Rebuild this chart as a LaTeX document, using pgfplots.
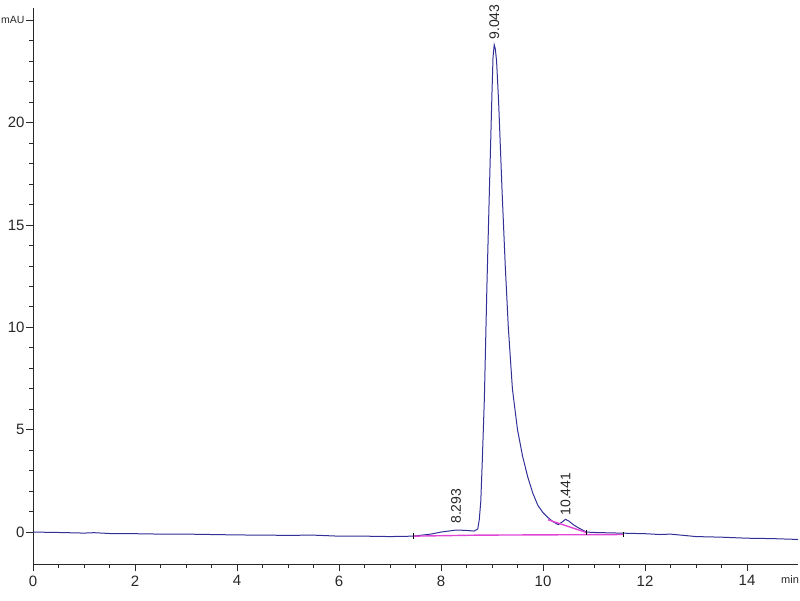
\documentclass[border=0pt]{standalone}
\usepackage{fontspec}
\setmainfont{Liberation Sans}
\usepackage{pgfplots}
\pgfplotsset{compat=1.18}
\definecolor{trace}{RGB}{48,48,150}
\definecolor{basefit}{RGB}{225,70,215}
\definecolor{axisgray}{RGB}{40,40,40}

\begin{document}
\begin{tikzpicture}
\begin{axis}[
    at={(0,0)}, anchor=south west,
    scale only axis,
    width=765pt, height=556pt,
    xmin=0, xmax=15,
    ymin=-1.56, ymax=25.6,
    axis lines*=left,
    axis line style={axisgray, line width=0.8pt},
    xtick={0,2,...,14},
    minor x tick num=3,
    ytick={0,5,10,15,20,25},
    yticklabels={0,5,10,15,20,{\fontsize{10.5}{12}\selectfont mAU}},
    minor y tick num=4,
    tick align=outside,
    major tick length=7pt,
    minor tick length=4pt,
    tick style={axisgray, line width=0.8pt},
    ticklabel style={font=\fontsize{15}{17}\selectfont, text=axisgray},
    yticklabel style={xshift=2pt},
    xticklabel style={yshift=-1pt},
    /pgf/number format/assume math mode=true,
    clip=false,
]

% chromatogram trace
\addplot[trace, line width=1pt] coordinates {
(0,0) (0.5,-0.02) (1,-0.05) (1.2,-0.03) (1.5,-0.07) (2,-0.08) (2.5,-0.1)
(3,-0.1) (3.5,-0.12) (4,-0.14) (4.5,-0.15) (5,-0.16) (5.5,-0.15) (6,-0.2)
(6.5,-0.2) (7,-0.22) (7.45,-0.2) (7.8,-0.1) (8.0,0.0) (8.3,0.1) (8.5,0.08)
(8.65,0.05) (8.72,0.15) (8.75,0.6) (8.78,1.5) (8.81,3.5) (8.85,6.5)
(8.9,12) (8.95,16.8) (9.0,21.5) (9.02,23.2) (9.043,23.8) (9.065,23.6)
(9.09,23.0) (9.13,21.0) (9.2,16.5) (9.26,13.0) (9.32,10.0) (9.4,7.0)
(9.5,5.0) (9.6,3.7) (9.7,2.7) (9.8,1.9) (9.9,1.3) (10.0,0.95) (10.1,0.7)
(10.2,0.5) (10.3,0.36) (10.38,0.5) (10.44,0.62) (10.5,0.55) (10.6,0.35)
(10.7,0.2) (10.85,0.0) (11,-0.02) (11.5,-0.05) (12,-0.08) (12.3,-0.12)
(12.5,-0.1) (13,-0.22) (13.5,-0.25) (14,-0.3) (14.5,-0.32) (15,-0.36)
};

% integration baselines
\addplot[basefit, line width=1.4pt] coordinates {(7.45,-0.2) (8.72,-0.15) (11.57,-0.12)};
\addplot[basefit, line width=1.4pt] coordinates {(10.1,0.6) (10.85,-0.02)};

% peak start / end marks
\addplot[black, line width=0.6pt] coordinates {(7.45,-0.32) (7.45,-0.05)};
\addplot[black, line width=0.6pt] coordinates {(10.85,-0.15) (10.85,0.12)};
\addplot[black, line width=0.6pt] coordinates {(11.57,-0.25) (11.57,0.0)};

% peak labels
\node[rotate=90, anchor=west, inner sep=1pt, font=\fontsize{14}{16}\selectfont, text=axisgray] at (axis cs:8.293,0.35) {8.293};
\node[rotate=90, anchor=west, inner sep=1pt, font=\fontsize{14}{16}\selectfont, text=axisgray] at (axis cs:9.043,24.0) {9.043};
\node[rotate=90, anchor=west, inner sep=1pt, font=\fontsize{14}{16}\selectfont, text=axisgray] at (axis cs:10.441,0.75) {10.441};

% axis unit
\node[anchor=west, inner sep=0pt, font=\fontsize{11}{13}\selectfont, text=axisgray] at ([xshift=-17pt, yshift=-16pt]axis cs:15,-1.56) {min};
\end{axis}
\pgfresetboundingbox
\useasboundingbox (-33pt,-36pt) rectangle (767pt,564pt);
\end{tikzpicture}
\end{document}
